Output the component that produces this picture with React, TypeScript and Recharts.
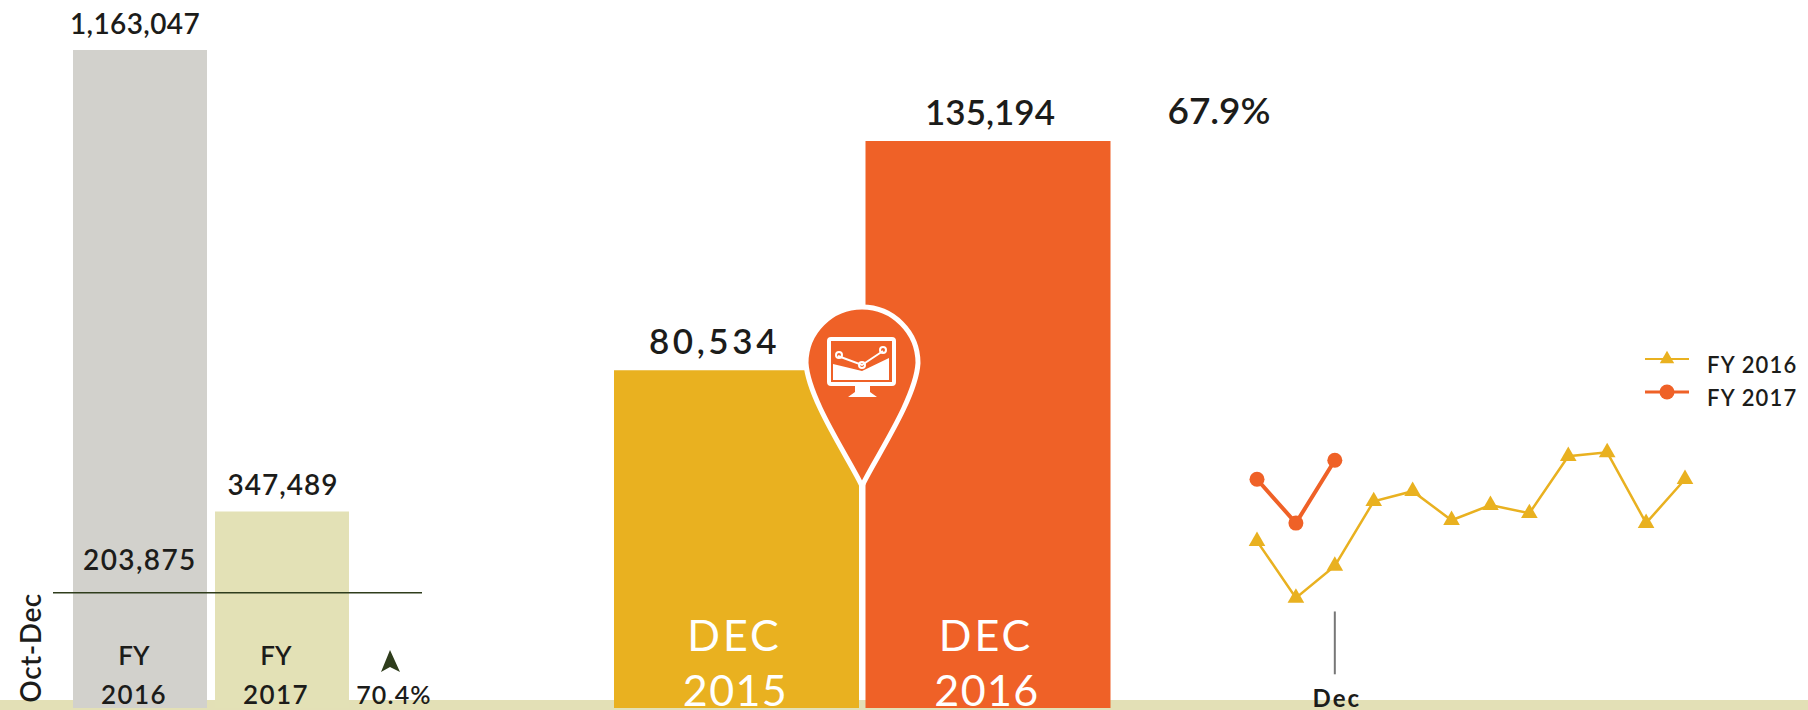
import { BarChart, Bar, Cell, LabelList, LineChart, Line, Legend, ReferenceLine, Symbols, XAxis, YAxis } from 'recharts';

const FONT = 'Lato, sans-serif';
const DARK = '#1c1c1a';
const YELLOW = '#e9b120';
const ORANGE = '#ef6127';
const BAND = '#e3e0b6';

// Oct-Dec passengers, left panel
const fyLabels = ['FY', 'FY'];
const fyYears = ['2016', '2017'];
const fyTotals = [1163047, 347489];
const fyColors = ['#d2d1cc', '#e3e1b6'];
const octDecLine = 203875;

// December comparison, middle panel
const decLabels = ['DEC', 'DEC'];
const decYears = ['2015', '2016'];
const decTotals = [80534, 135194];
const decColors = [YELLOW, ORANGE];

// monthly series, right panel
const months = ['Oct', 'Nov', 'Dec', 'Jan', 'Feb', 'Mar', 'Apr', 'May', 'Jun', 'Jul', 'Aug', 'Sep'];
const fy2016 = [93400, 64000, 80534, 114000, 119200, 104200, 112000, 107800, 137300, 139300, 102700, 125400];
const fy2017 = [125400, 102700, 135194];

const fyData = fyLabels.map((label, i) => ({ label, year: fyYears[i], total: fyTotals[i] }));
const decData = decLabels.map((label, i) => ({ label, year: decYears[i], total: decTotals[i] }));
const monthData = months.map((month, i) => ({
  month,
  fy2016: fy2016[i],
  fy2017: i < fy2017.length ? fy2017[i] : null,
}));

const formatCount = (value: number) => value.toLocaleString('en-US');

// value label above a bar; the big numbers sit off-centre in the original
function TopLabel({ x, y, width, value, index, nudges, fontSize, spacing, lift }: any) {
  return (
    <text
      x={x + width / 2 + nudges[index]}
      y={y - lift}
      textAnchor="middle"
      fontFamily={FONT}
      fontWeight={600}
      fontSize={fontSize}
      letterSpacing={spacing[index]}
      fill={DARK}
    >
      {formatCount(value)}
    </text>
  );
}

function TriangleDot({ cx, cy }: { cx?: number; cy?: number }) {
  if (cx == null || cy == null) return null;
  return <Symbols type="triangle" size={120} cx={cx} cy={cy} fill={YELLOW} stroke="none" />;
}

function MonthLegend() {
  const rows = [
    { name: 'FY 2016', color: YELLOW, width: 2, circle: false },
    { name: 'FY 2017', color: ORANGE, width: 3, circle: true },
  ];
  return (
    <div style={{ fontFamily: FONT, fontSize: 22, fontWeight: 600, letterSpacing: 1.2, color: DARK }}>
      {rows.map((row) => (
        <div key={row.name} style={{ display: 'flex', alignItems: 'center', height: 33 }}>
          <svg width={44} height={24} style={{ marginRight: 18, marginTop: -12 }}>
            <line x1={0} x2={44} y1={12} y2={12} stroke={row.color} strokeWidth={row.width} />
            {row.circle ? (
              <circle cx={22} cy={12} r={7.5} fill={row.color} />
            ) : (
              <Symbols type="triangle" size={90} cx={22} cy={12} fill={row.color} />
            )}
          </svg>
          <span>{row.name}</span>
        </div>
      ))}
    </div>
  );
}

function Overlay() {
  return (
    <svg width={1808} height={710} style={{ position: 'absolute', left: 0, top: 0 }} fontFamily={FONT} fontWeight={600}>
      <text x={0} y={0} transform="translate(41 648) rotate(-90)" textAnchor="middle" fontSize={28} letterSpacing={0.5} fill={DARK}>
        Oct-Dec
      </text>
      <path d="M390 650 L400 672 L390 667 L381 672 Z" fill="#2f3d1c" />
      <text x={394} y={704} textAnchor="middle" fontSize={25} letterSpacing={1.2} fill={DARK}>
        70.4%
      </text>
      <text x={1219} y={124} textAnchor="middle" fontSize={37} fill={DARK}>
        67.9%
      </text>
      <path
        d="M862 486 C850 460 808 399 806 363 A56 56 0 1 1 918 363 C916 399 874 460 862 486 Z"
        fill={ORANGE}
        stroke="#fff"
        strokeWidth={5}
      />
      <g fill="none" stroke="#fff">
        <rect x={829} y={339} width={65} height={45} rx={2} strokeWidth={4} />
        <path d="M838 356 L862 365 L883 351" strokeWidth={2} />
        <circle cx={839} cy={355} r={3} strokeWidth={2} />
        <circle cx={862} cy={365} r={3} strokeWidth={2} />
        <circle cx={883} cy={350} r={3} strokeWidth={2} />
      </g>
      <path d="M833 364 L862 371 L889 358 L889 380 L833 380 Z M855 386 L870 386 L870 392 L877 397 L848 397 L855 392 Z" fill="#fff" />
    </svg>
  );
}

export default function App() {
  return (
    <div style={{ position: 'absolute', left: 0, top: 0, width: 1808, height: 710, overflow: 'hidden', background: '#fff' }}>
      <div style={{ position: 'absolute', left: 0, top: 700, width: 1808, height: 10, background: BAND }} />

      <div style={{ position: 'absolute', left: 0, top: 0 }}>
        <BarChart width={500} height={710} data={fyData} margin={{ top: 50, right: 78, bottom: 2, left: 53 }} style={{ overflow: 'visible' }}>
          <XAxis dataKey="year" hide padding={{ left: 16, right: 69 }} />
          <YAxis hide domain={[0, fyTotals[0]]} />
          <Bar dataKey="total" barSize={134} isAnimationActive={false}>
            {fyColors.map((color) => (
              <Cell key={color} fill={color} />
            ))}
            <LabelList
              dataKey="total"
              content={<TopLabel nudges={[-5, 1]} spacing={[0.4, 1]} fontSize={28} lift={16} />}
            />
            <LabelList dataKey="label" position="insideBottom" offset={43} fontFamily={FONT} fontWeight={600} fontSize={26} fill={DARK} dx={-6} />
            <LabelList dataKey="year" position="insideBottom" offset={4} fontFamily={FONT} fontWeight={600} fontSize={26} letterSpacing={1.4} fill={DARK} dx={-6} />
          </Bar>
          <ReferenceLine
            y={octDecLine}
            stroke="#2f3d1c"
            strokeWidth={1.5}
            label={{ value: formatCount(octDecLine), position: 'insideBottomLeft', dx: 25, dy: -18, fontFamily: FONT, fontWeight: 600, fontSize: 28, letterSpacing: 1.4, fill: DARK }}
          />
        </BarChart>
      </div>

      <div style={{ position: 'absolute', left: 500, top: 0 }}>
        <BarChart width={708} height={710} data={decData} margin={{ top: 141, right: 94, bottom: 2, left: 111 }} style={{ overflow: 'visible' }}>
          <XAxis dataKey="year" hide />
          <YAxis hide domain={[0, decTotals[1]]} />
          <Bar dataKey="total" barSize={245} isAnimationActive={false}>
            {decColors.map((color) => (
              <Cell key={color} fill={color} />
            ))}
            <LabelList
              dataKey="total"
              content={<TopLabel nudges={[-22, 2]} spacing={[3.6, 0]} fontSize={35} lift={16} />}
            />
            <LabelList dataKey="label" position="insideBottom" offset={57} fontFamily={FONT} fontSize={43} letterSpacing={3} fill="#fff" dx={-2} />
            <LabelList dataKey="year" position="insideBottom" offset={2} fontFamily={FONT} fontSize={43} letterSpacing={1.4} fill="#fff" dx={-1} />
          </Bar>
        </BarChart>
      </div>

      <div style={{ position: 'absolute', left: 1200, top: 0 }}>
        <LineChart width={608} height={710} data={monthData} margin={{ top: 451, right: 123, bottom: 0, left: 57 }} style={{ overflow: 'visible' }}>
          <XAxis dataKey="month" ticks={['Dec']} interval={0} axisLine={false} tickLine={false} height={27} tick={{ fontFamily: FONT, fontSize: 24, fontWeight: 700, letterSpacing: 2, fill: DARK, dx: 2, dy: -1 }} />
          <YAxis hide domain={[20000, 140000]} />
          <Legend content={<MonthLegend />} layout="vertical" align="center" verticalAlign="middle" wrapperStyle={{ left: 445, top: 348, width: 170 }} />
          <ReferenceLine
            segment={[{ x: 'Dec', y: 57000 }, { x: 'Dec', y: 24500 }]}
            stroke="#777"
            strokeWidth={2}
          />
          <Line dataKey="fy2016" stroke={YELLOW} strokeWidth={2.5} dot={<TriangleDot />} isAnimationActive={false} />
          <Line dataKey="fy2017" stroke={ORANGE} strokeWidth={4} dot={{ r: 7.5, fill: ORANGE, stroke: ORANGE, strokeWidth: 0 }} isAnimationActive={false} />
        </LineChart>
      </div>

      <Overlay />
    </div>
  );
}
